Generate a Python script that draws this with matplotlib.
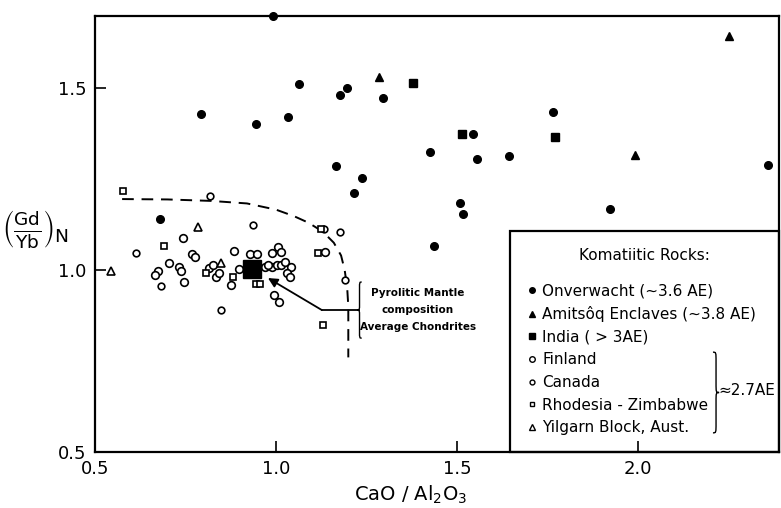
import matplotlib
matplotlib.use("Agg")
from matplotlib import pyplot as plt
from matplotlib.path import Path
from matplotlib.patches import PathPatch, Rectangle
from matplotlib.lines import Line2D

# Onverwacht (~3.6 AE), filled circles
onv_x = [0.794, 0.944, 1.034, 1.065, 1.176, 1.197, 1.295, 1.165, 1.237, 1.217, 1.426,
         1.545, 1.555, 1.645, 1.508, 1.516, 1.765, 1.924, 2.361, 0.992, 0.680, 1.436]
onv_y = [1.429, 1.402, 1.421, 1.511, 1.480, 1.501, 1.474, 1.286, 1.254, 1.213, 1.323,
         1.375, 1.304, 1.314, 1.184, 1.155, 1.435, 1.168, 1.288, 1.698, 1.140, 1.066]

# Amitsoq enclaves (~3.8 AE), filled triangles
ami_x = [1.284, 1.991, 2.253]
ami_y = [1.531, 1.317, 1.644]

# India (>3 AE), filled squares
ind_x = [1.380, 1.514, 1.772]
ind_y = [1.515, 1.374, 1.366]

# Finland, open circles
fin_x = [0.744, 0.704, 0.767, 0.776, 0.732, 0.739, 0.673, 0.666, 0.746, 0.885,
         0.875, 0.898, 0.995, 1.008, 0.815, 0.826, 0.834, 0.842, 0.928, 0.947,
         1.006, 1.015, 0.988, 0.970, 0.988, 1.002, 1.015, 1.025, 1.043, 1.031,
         1.040, 0.979, 1.135]
fin_y = [1.089, 1.018, 1.044, 1.036, 1.007, 0.998, 0.998, 0.987, 0.966, 1.052,
         0.960, 1.003, 0.931, 0.913, 1.006, 1.014, 0.981, 0.992, 1.043, 1.043,
         1.064, 1.050, 1.046, 1.009, 1.009, 1.014, 1.014, 1.023, 1.009, 0.993,
         0.980, 1.014, 1.050]

# Canada, small open circles
can_x = [0.817, 0.937, 0.614, 0.683, 0.848, 1.177, 1.191, 1.133]
can_y = [1.203, 1.123, 1.047, 0.956, 0.890, 1.104, 0.974, 1.112]

# Rhodesia - Zimbabwe, open squares
rho_x = [0.578, 0.691, 0.882, 0.807, 0.945, 0.956, 1.117, 1.124, 1.129]
rho_y = [1.217, 1.066, 0.981, 0.992, 0.961, 0.961, 1.046, 1.113, 0.849]

# Yilgarn Block, open triangles
yil_x = [0.543, 0.785, 0.848]
yil_y = [0.998, 1.117, 1.019]

# pyrolitic mantle / average chondrites
pyr_x = [0.935]
pyr_y = [1.003]

# dashed field boundary
bound_x = [0.575, 0.70, 0.82, 0.92, 1.00, 1.05, 1.09, 1.13, 1.16, 1.18, 1.19, 1.197, 1.200, 1.200]
bound_y = [1.195, 1.194, 1.190, 1.183, 1.166, 1.148, 1.130, 1.105, 1.075, 1.040, 1.000, 0.950, 0.900, 0.760]

plt.rcParams['font.family'] = ['DejaVu Sans']

fig = plt.figure(figsize=(7.81, 5.08), dpi=100)
ax = fig.add_axes([0.1216, 0.1102, 0.8758, 0.8583])


def brace(x, y0, y1, w, **kw):
    # vertical curly brace; w > 0 points right, w < 0 points left
    ym = (y0 + y1) / 2
    h = y1 - y0
    verts = [(x, y1),
             (x + w / 2, y1), (x + w / 2, y1), (x + w / 2, y1 - 0.12 * h),
             (x + w / 2, ym + 0.12 * h),
             (x + w / 2, ym), (x + w / 2, ym), (x + w, ym),
             (x + w / 2, ym), (x + w / 2, ym), (x + w / 2, ym - 0.12 * h),
             (x + w / 2, y0 + 0.12 * h),
             (x + w / 2, y0), (x + w / 2, y0), (x, y0)]
    codes = [Path.MOVETO] + [Path.CURVE4] * 3 + [Path.LINETO] + [Path.CURVE4] * 6 + \
            [Path.LINETO] + [Path.CURVE4] * 3
    ax.add_patch(PathPatch(Path(verts, codes), fill=False, lw=1.0, color='k', **kw))


ax.plot(bound_x, bound_y, color='k', lw=1.4, dashes=(6, 4))

ax.plot(onv_x, onv_y, 'o', color='k', ms=5.5, clip_on=False)
ax.plot(ami_x, ami_y, '^', color='k', ms=6)
ax.plot(ind_x, ind_y, 's', color='k', ms=5.5)
ax.plot(fin_x, fin_y, 'o', mfc='white', mec='k', mew=1.2, ms=5.5)
ax.plot(can_x, can_y, 'o', mfc='white', mec='k', mew=1.2, ms=4.8)
ax.plot(rho_x, rho_y, 's', mfc='white', mec='k', mew=1.2, ms=5)
ax.plot(yil_x, yil_y, '^', mfc='white', mec='k', mew=1.2, ms=5.5)
ax.plot(pyr_x, pyr_y, 's', color='k', ms=13, zorder=3)

# pointer to the pyrolite / chondrite composition
ax.plot([1.127, 1.227], [0.890, 0.890], color='k', lw=1.3)
ax.annotate('', xy=(0.978, 0.978), xytext=(1.127, 0.890),
            arrowprops=dict(arrowstyle='-|>', color='k', lw=1.3, mutation_scale=14,
                            shrinkA=0, shrinkB=0))
brace(1.237, 0.813, 0.967, -0.012)
ax.text(1.392, 0.890, 'Pyrolitic Mantle\ncomposition\nAverage Chondrites',
        ha='center', va='center', fontsize=7.5, linespacing=1.9,
        fontfamily='DejaVu Sans Condensed', fontweight='bold')

ax.set_xlim(0.5, 2.39)
ax.set_ylim(0.5, 1.698)
ax.set_xticks([0.5, 1.0, 1.5, 2.0])
ax.set_yticks([0.5, 1.0, 1.5])
ax.set_xticklabels(['0.5', '1.0', '1.5', '2.0'])
ax.set_yticklabels(['0.5', '1.0', '1.5'])
ax.tick_params(direction='in', length=8, width=1.2, labelsize=13, pad=6)
for s in ax.spines.values():
    s.set_linewidth(1.6)

ax.set_xlabel(r'CaO / Al$_2$O$_3$', fontsize=14)
ax.xaxis.set_label_coords(0.462, -0.072)
fig.text(0.045, 0.55, r'$\left(\frac{\mathrm{Gd}}{\mathrm{Yb}}\right)_{\mathrm{N}}$',
         fontsize=19, ha='center', va='center')

handles = [
    Line2D([], [], ls='none', marker='o', color='k', ms=4),
    Line2D([], [], ls='none', marker='^', color='k', ms=4),
    Line2D([], [], ls='none', marker='s', color='k', ms=4),
    Line2D([], [], ls='none', marker='o', mfc='white', mec='k', mew=1, ms=4),
    Line2D([], [], ls='none', marker='o', mfc='white', mec='k', mew=1, ms=3.5),
    Line2D([], [], ls='none', marker='s', mfc='white', mec='k', mew=1, ms=3.5),
    Line2D([], [], ls='none', marker='^', mfc='white', mec='k', mew=1, ms=4),
]
labels = ['Onverwacht (∼3.6 AE)', 'Amitsôq Enclaves (∼3.8 AE)', 'India ( > 3AE)',
          'Finland', 'Canada', 'Rhodesia - Zimbabwe', 'Yilgarn Block, Aust.']
# legend without its own frame; an open box is drawn instead so the 2.0 tick shows
leg = ax.legend(handles, labels, title='Komatiitic Rocks:\n', loc='lower left',
                bbox_to_anchor=(0.607, 0.0, 0.393, 0.505), mode='expand',
                borderaxespad=0, frameon=False, fontsize=11, title_fontsize=11,
                handlelength=0.6, handletextpad=0.4, labelspacing=0.5, borderpad=1.1)
leg.get_title().set_linespacing(0.8)
ax.add_patch(Rectangle((0.607, 0.0), 0.393, 0.507, transform=ax.transAxes,
                       fill=False, edgecolor='k', lw=1.6, clip_on=False))
brace(0.9035, 0.044, 0.229, 0.009, transform=ax.transAxes, zorder=6)
ax.text(0.912, 0.142, '≈2.7AE', transform=ax.transAxes, fontsize=11,
        ha='left', va='center', zorder=6)

fig.savefig('out.png', dpi=100)
